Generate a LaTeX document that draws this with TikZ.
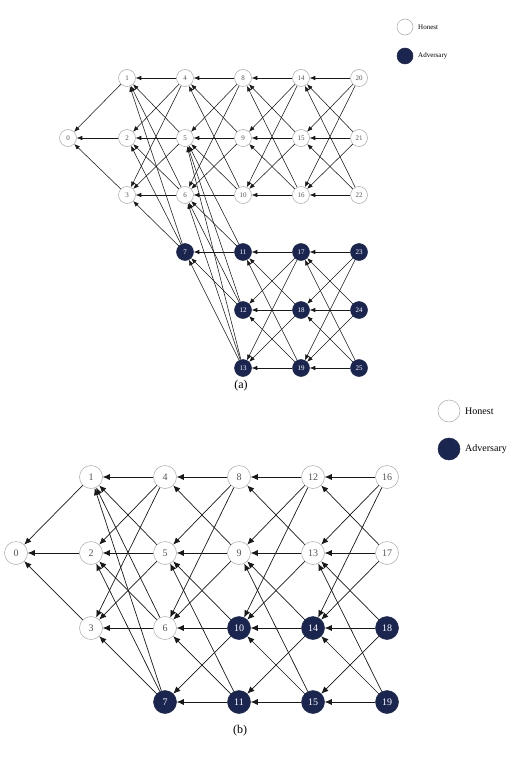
\documentclass[tikz,border=0pt]{standalone}
\usepackage{fontspec}
\setmainfont{Liberation Serif}
\usetikzlibrary{arrows.meta}
\definecolor{navy}{HTML}{1B2650}
\definecolor{ringgray}{HTML}{A8A8A8}
\definecolor{labgray}{HTML}{555555}
\begin{document}
\begin{tikzpicture}[x=1pt,y=-1pt,
  base/.style={circle, inner sep=0pt, line width=0.5pt},
  hona/.style={base, draw=ringgray, fill=white, minimum size=17pt, text=labgray, font=\fontsize{7}{8}\selectfont},
  adva/.style={base, draw=navy, fill=navy, minimum size=17pt, text=white, font=\fontsize{7}{8}\selectfont},
  honb/.style={base, draw=ringgray, fill=white, minimum size=23pt, text=labgray, font=\fontsize{10}{11}\selectfont},
  advb/.style={base, draw=navy, fill=navy, minimum size=23pt, text=white, font=\fontsize{10}{11}\selectfont},
  arra/.style={-{Latex[length=5.5pt,width=4.5pt]}, draw=black!90, line width=0.55pt},
  arrb/.style={-{Latex[length=7pt,width=6pt]}, draw=black!90, line width=0.7pt},
  legtxta/.style={anchor=west, font=\fontsize{7}{8}\selectfont, inner sep=0pt},
  legtxtb/.style={anchor=west, font=\fontsize{10}{11}\selectfont, inner sep=0pt},
  captxt/.style={font=\fontsize{12}{13}\selectfont, inner sep=0pt}]
\useasboundingbox (0,0) rectangle (524,757);
\fill[white] (0,0) rectangle (524,757);

% ---------- diagram (a) ----------
\foreach \n/\x/\y in {0/68/138, 1/127/78, 2/127/138, 3/127/195,
  4/185/78, 5/185/138, 6/185/195,
  8/243/78, 9/243/138, 10/243/195,
  14/301/78, 15/301/138, 16/301/195,
  20/359/78, 21/359/138, 22/359/195}
  \node[hona] (a\n) at (\x,\y) {\n};
\foreach \n/\x/\y in {7/185/252, 11/243/252, 12/243/310, 13/243/368,
  17/301/252, 18/301/310, 19/301/368,
  23/359/252, 24/359/310, 25/359/368}
  \node[adva] (a\n) at (\x,\y) {\n};

\foreach \s in {1,2,3} \draw[arra] (a\s) -- (a0);
\foreach \s in {4,5,6,7} \foreach \t in {1,2,3} \draw[arra] (a\s) -- (a\t);
\foreach \s in {8,9,10} \foreach \t in {4,5,6} \draw[arra] (a\s) -- (a\t);
\foreach \s in {11,12,13} \foreach \t in {5,6,7} \draw[arra] (a\s) -- (a\t);
\foreach \s in {14,15,16} \foreach \t in {8,9,10} \draw[arra] (a\s) -- (a\t);
\foreach \s in {17,18,19} \foreach \t in {11,12,13} \draw[arra] (a\s) -- (a\t);
\foreach \s in {20,21,22} \foreach \t in {14,15,16} \draw[arra] (a\s) -- (a\t);
\foreach \s in {23,24,25} \foreach \t in {17,18,19} \draw[arra] (a\s) -- (a\t);

\node[base, draw=ringgray, fill=white, minimum size=16pt] (lha) at (405,27) {};
\node[legtxta] (lhat) at (418,27) {Honest};
\node[base, draw=navy, fill=navy, minimum size=16pt] (laa) at (405,56) {};
\node[legtxta] (laat) at (418,56) {Adversary};
\node[captxt] (capa) at (241,386) {(a)};

% ---------- diagram (b) ----------
\foreach \n/\x/\y in {0/16/553, 1/91/477, 2/91/553, 3/91/628,
  4/165/477, 5/165/553, 6/165/628,
  8/239/477, 9/239/553,
  12/313/477, 13/313/553,
  16/387/477, 17/387/553}
  \node[honb] (b\n) at (\x,\y) {\n};
\foreach \n/\x/\y in {7/165/702, 10/239/628, 11/239/702,
  14/313/628, 15/313/702, 18/387/628, 19/387/702}
  \node[advb] (b\n) at (\x,\y) {\n};

\foreach \s in {1,2,3} \draw[arrb] (b\s) -- (b0);
\foreach \s in {4,5,6,7} \foreach \t in {1,2,3} \draw[arrb] (b\s) -- (b\t);
\foreach \s in {8,9} \foreach \t in {4,5,6} \draw[arrb] (b\s) -- (b\t);
\foreach \s in {10,11} \foreach \t in {5,6,7} \draw[arrb] (b\s) -- (b\t);
\foreach \s in {12,13} \foreach \t in {8,9,10} \draw[arrb] (b\s) -- (b\t);
\foreach \s in {14,15} \foreach \t in {9,10,11} \draw[arrb] (b\s) -- (b\t);
\foreach \s in {16,17} \foreach \t in {12,13,14} \draw[arrb] (b\s) -- (b\t);
\foreach \s in {18,19} \foreach \t in {13,14,15} \draw[arrb] (b\s) -- (b\t);

\node[base, draw=ringgray, fill=white, minimum size=22pt] (lhb) at (449,411) {};
\node[legtxtb] (lhbt) at (465,411) {Honest};
\node[base, draw=navy, fill=navy, minimum size=22pt] (lab) at (449,449) {};
\node[legtxtb] (labt) at (465,449) {Adversary};
\node[captxt] (capb) at (240,731) {(b)};
\end{tikzpicture}
\end{document}
